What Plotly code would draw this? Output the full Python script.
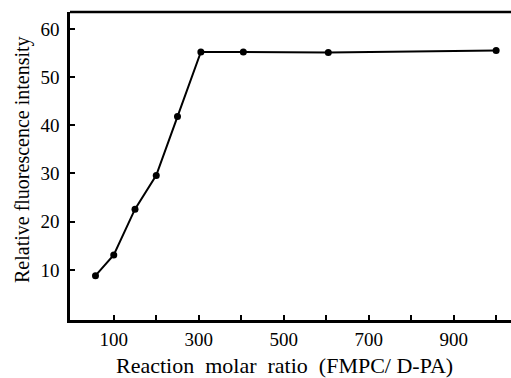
import plotly.graph_objects as go

ratio = [57, 100, 150, 200, 250, 305, 405, 605, 1000]
intensity = [8.8, 13.1, 22.6, 29.6, 41.8, 55.2, 55.2, 55.1, 55.5]

x_tickvals = [100, 200, 300, 400, 500, 600, 700, 800, 900, 1000]
x_ticktext = ["100", "", "300", "", "500", "", "700", "", "900", ""]
y_tickvals = [10, 20, 30, 40, 50, 60]

x_title = "Reaction\u00a0\u00a0molar\u00a0\u00a0ratio\u00a0\u00a0(FMPC/\u00a0D-PA)"
y_title = "Relative fluorescence intensity"

font_family = "Liberation Serif"

fig = go.Figure()
fig.add_trace(go.Scatter(
    x=ratio, y=intensity, mode="lines+markers",
    line=dict(color="black", width=2),
    marker=dict(color="black", size=7),
    showlegend=False,
))

fig.update_layout(
    width=511, height=378,
    margin=dict(l=70, r=0, t=12, b=58),
    paper_bgcolor="white", plot_bgcolor="white",
    font=dict(family=font_family, color="black", size=19),
)
fig.update_xaxes(
    range=[-3, 1035],
    tickmode="array", tickvals=x_tickvals, ticktext=x_ticktext,
    ticks="inside", ticklen=5, tickwidth=1.5, tickcolor="black",
    showline=True, linecolor="black", linewidth=2.5, mirror=False,
    showgrid=False, zeroline=False,
    ticklabelstandoff=0,
    tickfont=dict(size=19, family=font_family),
)
fig.update_yaxes(
    range=[-0.4, 63.5],
    tickmode="array", tickvals=y_tickvals,
    ticks="inside", ticklen=5, tickwidth=1.5, tickcolor="black",
    showline=True, linecolor="black", linewidth=2.5,
    showgrid=False, zeroline=False,
    ticklabelstandoff=4,
    tickfont=dict(size=19, family=font_family),
)
# axis titles placed as in the reference
fig.add_annotation(
    text=x_title, xref="paper", yref="paper",
    x=(284 - 70) / 441, y=-(365 - 320) / 308,
    xanchor="center", yanchor="middle", showarrow=False,
    font=dict(size=22, family=font_family, color="black"),
)
fig.add_annotation(
    text=y_title, xref="paper", yref="paper", textangle=-90,
    x=(22 - 70) / 441, y=(320 - 160) / 308,
    xanchor="center", yanchor="middle", showarrow=False,
    font=dict(size=20, family=font_family, color="black"),
)
# top border line
fig.add_shape(type="line", xref="paper", yref="paper", x0=0, x1=1, y0=1, y1=1,
              line=dict(color="black", width=2.5))

fig.write_html("out.html")
